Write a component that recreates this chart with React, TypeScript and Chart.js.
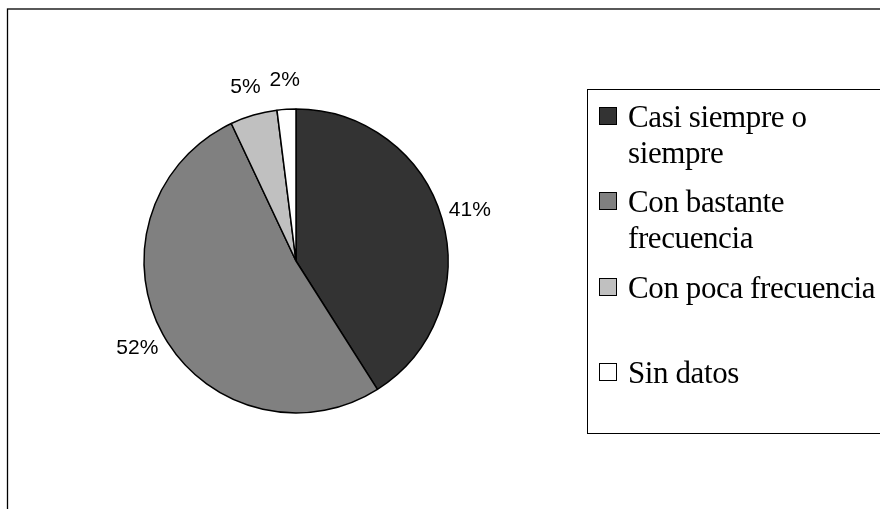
import React, { useEffect, useRef } from "react";
import { Chart, registerables } from "chart.js";

Chart.register(...registerables);

const categories = [
  "Casi siempre o siempre",
  "Con bastante frecuencia",
  "Con poca frecuencia",
  "Sin datos",
];
const values = [41, 52, 5, 2];
const colors = ["#333333", "#808080", "#c0c0c0", "#ffffff"];

function wrapText(ctx: CanvasRenderingContext2D, text: string, maxW: number): string[] {
  const words = text.split(" ");
  const lines: string[] = [];
  let cur = "";
  for (const w of words) {
    const test = cur ? cur + " " + w : w;
    if (ctx.measureText(test).width > maxW && cur) {
      lines.push(cur);
      cur = w;
    } else {
      cur = test;
    }
  }
  if (cur) lines.push(cur);
  return lines;
}

const framePlugin = {
  id: "frameAndLegend",
  beforeDraw(chart: any) {
    const ctx = chart.ctx as CanvasRenderingContext2D;
    ctx.save();
    ctx.fillStyle = "#ffffff";
    ctx.fillRect(0, 0, chart.width, chart.height);
    ctx.strokeStyle = "#000000";
    ctx.lineWidth = 1.3;
    ctx.strokeRect(7.5, 9, 900, 600);
    ctx.restore();
  },
  afterDraw(chart: any) {
    const ctx = chart.ctx as CanvasRenderingContext2D;
    ctx.save();
    ctx.strokeStyle = "#000000";
    ctx.lineWidth = 1;
    ctx.strokeRect(587.5, 89.5, 400, 344);
    ctx.font = "31px 'Liberation Serif', 'Times New Roman', serif";
    try {
      (ctx as any).letterSpacing = "-0.4px";
    } catch (e) {}
    ctx.textAlign = "left";
    ctx.textBaseline = "alphabetic";
    const firstBase = 127;
    const slot = 85.3;
    const lineH = 35.5;
    categories.forEach((cat, i) => {
      const base = Math.round(firstBase + i * slot);
      ctx.fillStyle = colors[i];
      ctx.fillRect(599.5, base - 19.5, 17, 17);
      ctx.strokeStyle = "#000000";
      ctx.lineWidth = 1;
      ctx.strokeRect(599.5, base - 19.5, 17, 17);
      ctx.fillStyle = "#000000";
      const lines = wrapText(ctx, cat, 252);
      lines.forEach((ln, j) => {
        ctx.fillText(ln, 628, base + j * lineH);
      });
    });
    ctx.restore();
  },
  afterDatasetsDraw(chart: any) {
    const ctx = chart.ctx as CanvasRenderingContext2D;
    const meta = chart.getDatasetMeta(0);
    ctx.save();
    ctx.font = "21px 'Liberation Sans', Arial, sans-serif";
    ctx.fillStyle = "#000000";
    ctx.textAlign = "center";
    ctx.textBaseline = "middle";
    meta.data.forEach((arc: any, i: number) => {
      const p = arc.getProps(["x", "y", "startAngle", "endAngle", "outerRadius"], true);
      const mid = (p.startAngle + p.endAngle) / 2;
      const d = p.outerRadius + 29;
      ctx.fillText(values[i] + "%", p.x + Math.cos(mid) * d, p.y + Math.sin(mid) * d);
    });
    ctx.restore();
  },
};

export default function App() {
  const ref = useRef<HTMLCanvasElement | null>(null);
  useEffect(() => {
    document.body.style.margin = "0";
    const canvas = ref.current!;
    const chart = new Chart(canvas, {
      type: "pie",
      data: {
        labels: categories,
        datasets: [
          {
            data: values,
            backgroundColor: colors,
            borderColor: "#000000",
            borderWidth: 1.5,
          },
        ],
      },
      options: {
        responsive: false,
        animation: false,
        devicePixelRatio: 1,
        radius: 152,
        layout: { padding: { left: 130, right: 418, top: 100, bottom: 87 } },
        plugins: {
          legend: { display: false },
          tooltip: { enabled: false },
        },
      } as any,
      plugins: [framePlugin],
    });
    return () => chart.destroy();
  }, []);
  return (
    <canvas
      ref={ref}
      width={880}
      height={509}
      style={{ display: "block", width: "880px", height: "509px" }}
    />
  );
}
